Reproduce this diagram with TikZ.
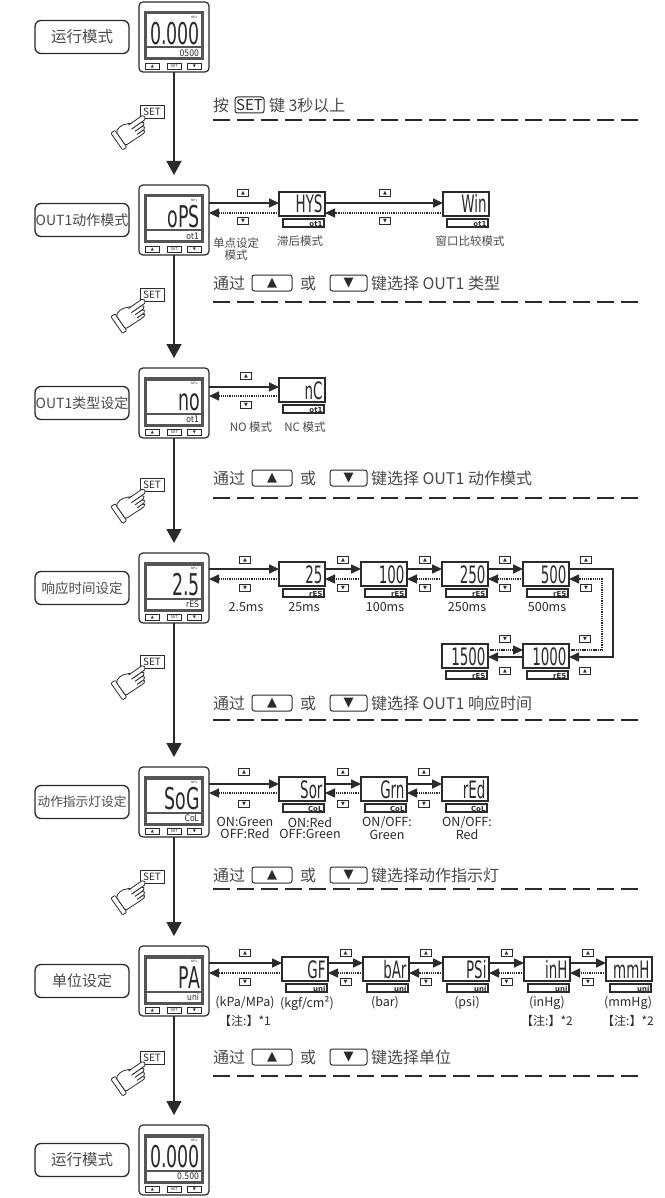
\documentclass[tikz,border=0pt]{standalone}
\usepackage{fontspec}
\usepackage{graphicx}
\setmainfont{Noto Sans CJK SC}
\newfontfamily\symf{DejaVu Sans}
\newfontfamily\segf{DejaVu Sans}
\usetikzlibrary{arrows.meta,positioning,calc}
\definecolor{ink}{HTML}{2B2B2B}
\definecolor{txt}{HTML}{4A4A4A}
\definecolor{dgray}{HTML}{555555}
\tikzset{
  every node/.style={inner sep=0pt, outer sep=0pt, text=ink},
  lbl/.style={draw=ink, line width=1.3pt, rounded corners=6pt, minimum width=94pt, minimum height=33pt, text=txt},
  devbox/.style={draw=ink, line width=1.2pt, rounded corners=4pt, minimum width=70pt, minimum height=70pt, fill=white},
  devmain/.style={font=\segf\fontsize{30}{30}\selectfont},
  devsub/.style={font=\segf\fontsize{9}{9}\selectfont},
  btn/.style={draw=ink, line width=0.8pt, minimum width=14pt, minimum height=6pt, font=\symf\fontsize{4}{4}\selectfont},
  mainbox/.style={draw=ink, line width=1.4pt, minimum width=46pt, minimum height=24pt, fill=white},
  subbox/.style={draw=ink, line width=1.1pt, minimum width=41pt, minimum height=8pt, fill=white},
  segmain/.style={font=\segf\fontsize{24}{24}\selectfont},
  segsub/.style={font=\segf\bfseries\fontsize{7}{7}\selectfont},
  keyico/.style={draw=ink, line width=0.9pt, minimum width=11pt, minimum height=7.5pt, font=\symf\fontsize{5}{5}\selectfont},
  flow/.style={draw=ink, line width=1.6pt, shorten >=10pt, -{Triangle[width=15pt,length=14pt]}},
  fwd/.style={draw=ink, line width=1.6pt, -{Triangle[width=9pt,length=10pt]}},
  bwd/.style={draw=ink, line width=1.3pt, dash pattern=on 1.3pt off 0.9pt, -{Triangle[width=9pt,length=10pt]}},
  sepline/.style={draw=ink, line width=1.8pt, dash pattern=on 17pt off 7pt},
  instr/.style={font=\fontsize{16}{16}\selectfont, text=txt, anchor=west},
  keyb/.style={draw=ink, line width=1pt, rounded corners=2.5pt, minimum height=16pt, font=\symf\fontsize{13}{13}\selectfont},
  capt/.style={font=\fontsize{11.5}{12}\selectfont, align=center, text=txt},
  ms/.style={font=\fontsize{12.5}{11.5}\selectfont, align=center},
  setk/.style={draw=ink, line width=0.9pt, fill=white, minimum width=24pt, minimum height=13pt, font=\fontsize{10}{10}\selectfont},
}
% device: name, left x, top y, main text, sub text
\newcommand{\device}[5]{%
  \node[devbox] (#1) at (#2+35,#3+35) {};
  \fill[dgray] (#2+5,#3+9) rectangle (#2+65,#3+58.5);
  \fill[white] (#2+8,#3+12.5) rectangle (#2+62,#3+44.5);
  \fill[white] (#2+8,#3+46.5) rectangle (#2+62,#3+55.5);
  \node[font=\fontsize{3}{3}\selectfont] (#1u) at (#2+55,#3+15.5) {MPa};
  \node[devmain, anchor=base east] (#1m) at (#2+61,#3+42.5) {\scalebox{0.58}[1]{#4}};
  \node[devsub, anchor=base east] (#1s) at (#2+60,#3+54.3) {\scalebox{0.85}[1]{#5}};
  \node[btn] (#1a) at (#2+13.5,#3+64) {▲};
  \node[btn] (#1b) at (#2+35.5,#3+64) {\fontspec{Noto Sans CJK SC}\fontsize{4}{4}\selectfont SET};
  \node[btn] (#1c) at (#2+55.5,#3+64) {▼};
}
% value box: name, center x, top y, main text, sub text
\newcommand{\valbox}[5]{%
  \node[mainbox] (#1) at (#2,#3+12) {};
  \node[subbox] (#1sb) at (#2+1.5,#3+31) {};
  \node[segmain, anchor=base east] (#1m) at (#2+20.5,#3+21) {\scalebox{0.56}[1]{#4}};
  \node[segsub, anchor=base east] (#1s) at (#2+20.5,#3+34) {#5};
}
% hand icon: fingertip position
\newcommand{\handicon}[2]{%
  \begin{scope}[shift={(#1,#2)}, rotate=35, draw=ink, line width=0.8pt, line join=round]
    \draw[fill=white, rounded corners=1pt] (-30,-6) -- (-35,-6) -- (-35,14.5) -- (-30,14.5) -- cycle;
    \draw[fill=white, rounded corners=2pt] (-12,-2.5) -- (-22,-6.5) -- (-30,-4.5) -- (-30,12.5) -- (-12,13) -- cycle;
    \draw[fill=white, rounded corners=1.8pt] (-14,10) -- (-6,10) -- (-6,13) -- (-14,13);
    \draw[fill=white, rounded corners=1.8pt] (-14,6.3) -- (-4,6.3) -- (-4,10) -- (-14,10);
    \draw[fill=white, rounded corners=1.8pt] (-14,2.5) -- (-2,2.5) -- (-2,6.3) -- (-14,6.3);
    \draw[fill=white, rounded corners=1.8pt] (-16,-2.5) -- (2,-2.5) -- (2,2.5) -- (-16,2.5);
  \end{scope}
}
% instruction line: prefix, y, tail
\newcommand{\instrline}[3]{%
  \node[instr] (#1a) at (213,#2) {通过};
  \node[keyb, minimum width=40pt] (#1b) at (272,#2) {▲};
  \node[instr] (#1c) at (300,#2) {或};
  \node[keyb, minimum width=37pt] (#1d) at (348.5,#2) {▼};
  \node[instr] (#1e) at (371,#2) {#3};
}
\begin{document}
\begin{tikzpicture}[x=1pt,y=-1pt]
\useasboundingbox (0,0) rectangle (664,1198);
\fill[white] (0,0) rectangle (664,1198);

% ---------------- Row 1
\node[lbl, font=\fontsize{15.5}{15.5}\selectfont] (l1) at (82,37) {运行模式};
\device{d1}{139}{2}{0.000}{0500}
\node[setk] (h1k) at (152,111.5) {SET};
\handicon{143}{118}
\node[instr] (i1a) at (213,105) {按};
\node[keyb, anchor=west, minimum width=29pt, font=\fontsize{15}{15}\selectfont] (i1b) at (235,105) {SET};
\node[instr] (i1c) at (269,105) {键 3秒以上};
\coordinate (a1) at (213,120); \coordinate (b1) at (640,120);
\draw[sepline] (a1) -- (b1);

% ---------------- Row 2
\node[lbl, font=\fontsize{14}{14}\selectfont] (l2) at (82,220) {OUT1动作模式};
\device{d2}{139}{185}{oPS}{ot1}
\valbox{hys}{302}{192}{HYS}{ot1}
\valbox{win}{466}{192}{Win}{ot1}
\coordinate (s2) at (0,203); \coordinate (t2) at (0,213);
\draw[fwd] (d2.east |- s2) -- (hys.west |- s2);
\draw[bwd] (hys.west |- t2) -- (d2.east |- t2);
\draw[fwd] (hys.east |- s2) -- (win.west |- s2);
\draw[bwd] (win.west |- t2) -- (hys.east |- t2);
\node[keyico] (k2a) at (243,193) {▲};
\node[keyico] (k2b) at (243,221) {▼};
\node[keyico] (k2c) at (385,193) {▲};
\node[keyico] (k2d) at (385,221) {▼};
\node[capt] (c2a) at (236,249) {单点设定\\模式};
\node[capt] (c2b) at (300,241) {滞后模式};
\node[capt] (c2c) at (470,241) {窗口比较模式};
\node[setk] (h2k) at (152,295) {SET};
\handicon{143}{301.5}
\instrline{i2}{283}{键选择 OUT1 类型}
\coordinate (a2) at (213,302); \coordinate (b2) at (640,302);
\draw[sepline] (a2) -- (b2);

% ---------------- Row 3
\node[lbl, font=\fontsize{14}{14}\selectfont] (l3) at (82,403) {OUT1类型设定};
\device{d3}{139}{368}{no}{ot1}
\valbox{nc}{302}{378}{nC}{ot1}
\coordinate (s3) at (0,387); \coordinate (t3) at (0,396);
\draw[fwd] (d3.east |- s3) -- (nc.west |- s3);
\draw[bwd] (nc.west |- t3) -- (d3.east |- t3);
\node[keyico] (k3a) at (246,376) {▲};
\node[keyico] (k3b) at (246,405) {▼};
\node[capt] (c3a) at (251,427) {NO 模式};
\node[capt] (c3b) at (305,427) {NC 模式};
\node[setk] (h3k) at (152,485) {SET};
\handicon{143}{491.5}
\instrline{i3}{478}{键选择 OUT1 动作模式}
\coordinate (a3) at (213,498); \coordinate (b3) at (640,498);
\draw[sepline] (a3) -- (b3);

% ---------------- Row 4
\node[lbl, font=\fontsize{13.5}{13.5}\selectfont] (l4) at (82,588) {响应时间设定};
\device{d4}{139}{553}{2.5}{rES}
\valbox{r25}{302}{562}{25}{rES}
\valbox{r100}{384}{562}{100}{rES}
\valbox{r250}{465}{562}{250}{rES}
\valbox{r500}{546}{562}{500}{rES}
\valbox{r1000}{546}{644}{1000}{rES}
\valbox{r1500}{465}{644}{1500}{rES}
\coordinate (s4) at (0,569); \coordinate (t4) at (0,579);
\coordinate (s4b) at (0,657); \coordinate (t4b) at (0,650);
\coordinate (lpS) at (613,0); \coordinate (lpD) at (602,0);
\draw[fwd] (d4.east |- s4) -- (r25.west |- s4);
\draw[bwd] (r25.west |- t4) -- (d4.east |- t4);
\draw[fwd] (r25.east |- s4) -- (r100.west |- s4);
\draw[bwd] (r100.west |- t4) -- (r25.east |- t4);
\draw[fwd] (r100.east |- s4) -- (r250.west |- s4);
\draw[bwd] (r250.west |- t4) -- (r100.east |- t4);
\draw[fwd] (r250.east |- s4) -- (r500.west |- s4);
\draw[bwd] (r500.west |- t4) -- (r250.east |- t4);
\draw[fwd] (r500.east |- s4) -- (lpS |- s4) -- (lpS |- s4b) -- (r1000.east |- s4b);
\draw[bwd] (r1000.east |- t4b) -- (lpD |- t4b) -- (lpD |- t4) -- (r500.east |- t4);
\draw[bwd] (r1500.east |- t4b) -- (r1000.west |- t4b);
\draw[fwd] (r1000.west |- s4b) -- (r1500.east |- s4b);
\node[keyico] (k4a) at (245,560) {▲};
\node[keyico] (k4b) at (245,588) {▼};
\node[keyico] (k4c) at (343,560) {▲};
\node[keyico] (k4d) at (343,588) {▼};
\node[keyico] (k4e) at (425,560) {▲};
\node[keyico] (k4f) at (425,588) {▼};
\node[keyico] (k4g) at (505,560) {▲};
\node[keyico] (k4h) at (505,588) {▼};
\node[keyico] (k4i) at (586,560) {▲};
\node[keyico] (k4j) at (586,588) {▼};
\node[keyico] (k4k) at (505,639) {▼};
\node[keyico] (k4l) at (585,639) {▼};
\node[keyico] (k4m) at (505,671) {▲};
\node[keyico] (k4n) at (585,671) {▲};
\node[ms] (c4a) at (246,607) {2.5ms};
\node[ms] (c4b) at (304,607) {25ms};
\node[ms] (c4c) at (385,607) {100ms};
\node[ms] (c4d) at (467,607) {250ms};
\node[ms] (c4e) at (547,607) {500ms};
\node[setk] (h4k) at (152,661.5) {SET};
\handicon{143}{668}
\instrline{i4}{703}{键选择 OUT1 响应时间}
\coordinate (a4) at (213,720); \coordinate (b4) at (640,720);
\draw[sepline] (a4) -- (b4);

% ---------------- Row 5
\node[lbl, font=\fontsize{12.7}{12.7}\selectfont] (l5) at (82,802) {动作指示灯设定};
\device{d5}{139}{767}{SoG}{CoL}
\valbox{sor}{302}{777}{Sor}{CoL}
\valbox{grn}{384}{777}{Grn}{CoL}
\valbox{red}{465}{777}{rEd}{CoL}
\coordinate (s5) at (0,784); \coordinate (t5) at (0,793);
\draw[fwd] (d5.east |- s5) -- (sor.west |- s5);
\draw[bwd] (sor.west |- t5) -- (d5.east |- t5);
\draw[fwd] (sor.east |- s5) -- (grn.west |- s5);
\draw[bwd] (grn.west |- t5) -- (sor.east |- t5);
\draw[fwd] (grn.east |- s5) -- (red.west |- s5);
\draw[bwd] (red.west |- t5) -- (grn.east |- t5);
\node[keyico] (k5a) at (244,772) {▲};
\node[keyico] (k5b) at (244,804) {▼};
\node[keyico] (k5c) at (343,772) {▲};
\node[keyico] (k5d) at (343,804) {▼};
\node[keyico] (k5e) at (424,772) {▲};
\node[keyico] (k5f) at (424,804) {▼};
\node[ms] (c5a) at (245,828) {ON:Green\\OFF:Red};
\node[ms] (c5b) at (310,828) {ON:Red\\OFF:Green};
\node[ms] (c5c) at (387,828) {ON/OFF:\\Green};
\node[ms] (c5d) at (467,828) {ON/OFF:\\Red};
\node[setk] (h5k) at (152,876.5) {SET};
\handicon{143}{883}
\instrline{i5}{875}{键选择动作指示灯}
\coordinate (a5) at (213,889); \coordinate (b5) at (640,889);
\draw[sepline] (a5) -- (b5);

% ---------------- Row 6
\node[lbl, font=\fontsize{15}{15}\selectfont] (l6) at (82,981) {单位设定};
\device{d6}{139}{946}{PA}{uni}
\valbox{gf}{305}{957}{GF}{uni}
\valbox{bar}{386}{957}{bAr}{uni}
\valbox{psi}{466}{957}{PSi}{uni}
\valbox{inh}{547}{957}{inH}{uni}
\valbox{mmh}{629}{957}{mmH}{uni}
\coordinate (s6) at (0,963); \coordinate (t6) at (0,973);
\draw[fwd] (d6.east |- s6) -- (gf.west |- s6);
\draw[bwd] (gf.west |- t6) -- (d6.east |- t6);
\draw[fwd] (gf.east |- s6) -- (bar.west |- s6);
\draw[bwd] (bar.west |- t6) -- (gf.east |- t6);
\draw[fwd] (bar.east |- s6) -- (psi.west |- s6);
\draw[bwd] (psi.west |- t6) -- (bar.east |- t6);
\draw[fwd] (psi.east |- s6) -- (inh.west |- s6);
\draw[bwd] (inh.west |- t6) -- (psi.east |- t6);
\draw[fwd] (inh.east |- s6) -- (mmh.west |- s6);
\draw[bwd] (mmh.west |- t6) -- (inh.east |- t6);
\node[keyico] (k6a) at (245,953) {▲};
\node[keyico] (k6b) at (245,982) {▼};
\node[keyico] (k6c) at (345.5,953) {▲};
\node[keyico] (k6d) at (345.5,982) {▼};
\node[keyico] (k6e) at (426,953) {▲};
\node[keyico] (k6f) at (426,982) {▼};
\node[keyico] (k6g) at (506.5,953) {▲};
\node[keyico] (k6h) at (506.5,982) {▼};
\node[keyico] (k6i) at (588,953) {▲};
\node[keyico] (k6j) at (588,982) {▼};
\node[ms] (c6a) at (245,1003) {(kPa/MPa)};
\node[ms] (c6b) at (307,1003) {(kgf/cm²)};
\node[ms] (c6c) at (385,1003) {(bar)};
\node[ms] (c6d) at (467,1003) {(psi)};
\node[ms] (c6e) at (547,1003) {(inHg)};
\node[ms] (c6f) at (628,1003) {(mmHg)};
\node[ms, font=\fontsize{12}{12}\selectfont] (c6g) at (245,1021) {【注:】*1};
\node[ms, font=\fontsize{12}{12}\selectfont] (c6h) at (547,1021) {【注:】*2};
\node[ms, font=\fontsize{12}{12}\selectfont] (c6i) at (628,1021) {【注:】*2};
\node[setk] (h6k) at (152,1057.5) {SET};
\handicon{143}{1064}
\instrline{i6}{1057}{键选择单位}
\coordinate (a6) at (213,1076); \coordinate (b6) at (640,1076);
\draw[sepline] (a6) -- (b6);

% ---------------- Row 7
\node[lbl, font=\fontsize{15.5}{15.5}\selectfont] (l7) at (82,1160) {运行模式};
\device{d7}{139}{1125}{0.000}{0.500}

% ---------------- main flow
\draw[flow] (d1.south) -- (d2.north);
\draw[flow] (d2.south) -- (d3.north);
\draw[flow] (d3.south) -- (d4.north);
\draw[flow] (d4.south) -- (d5.north);
\draw[flow] (d5.south) -- (d6.north);
\draw[flow] (d6.south) -- (d7.north);
\end{tikzpicture}
\end{document}
